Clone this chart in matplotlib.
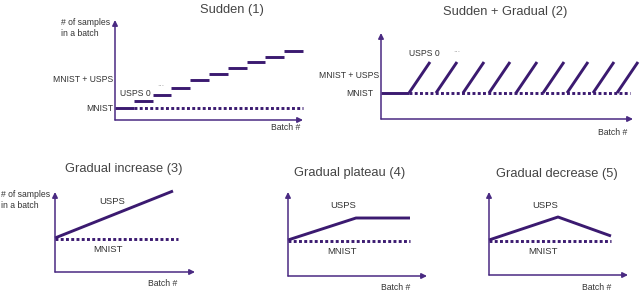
import matplotlib
matplotlib.use('Agg')
import matplotlib.pyplot as plt

plt.rcParams['font.family'] = ['Liberation Sans', 'DejaVu Sans']

W, H = 640, 290
LINE = '#3b1a70'
AXC = '#4a2a82'
TXT = '#333333'
TITLE = '#444444'

# Sudden (1): USPS step levels above MNIST, one per batch block
sudden_x = [1, 2, 3, 4, 5, 6, 7, 8, 9]
sudden_levels = [19, 25, 32, 40, 46, 52, 58, 63, 69]
sudden_mnist = 12

# Sudden + Gradual (2): ramps starting at these batch positions
ramp_starts = [28, 55, 82, 108, 135, 162, 186, 212, 236]
ramp_w, ramp_h = 21, 31
sg_mnist = 26

# Gradual panels (3)-(5): USPS curves
inc_x, inc_y = [0, 118], [34, 81]
plat_x, plat_y = [0, 68, 122], [36, 58, 58]
dec_x, dec_y = [0, 69, 122], [35, 58, 39]
grad_mnist = [33, 35, 34]
grad_end = [123, 122, 122]

fig = plt.figure(figsize=(W / 100, H / 100), dpi=100)


def px(x, y):
    return x / W, 1 - y / H


def make_ax(x0, y_bottom, x1, y_top, xmax, ymax):
    ax = fig.add_axes([x0 / W, 1 - y_bottom / H, (x1 - x0) / W, (y_bottom - y_top) / H])
    ax.set_xlim(0, xmax)
    ax.set_ylim(0, ymax)
    ax.axis('off')
    arrow = dict(arrowstyle='-|>', color=AXC, lw=1.1, shrinkA=0, shrinkB=0, mutation_scale=8)
    ax.annotate('', xy=(1, 0), xytext=(0, 0), xycoords='axes fraction', arrowprops=arrow)
    ax.annotate('', xy=(0, 1), xytext=(0, 0), xycoords='axes fraction', arrowprops=arrow)
    return ax


def txt(x, y, s, size=6.2, ha='center', color=TXT):
    fig.text(*px(x, y), s, fontsize=size, ha=ha, va='center', color=color)


solid = dict(color=LINE, lw=2.1, solid_capstyle='butt', clip_on=False)
dotted = dict(color=LINE, lw=2.1, ls=(0, (1, 0.8)), dash_capstyle='butt', clip_on=False)

# ---- panel 1
ax1 = make_ax(115, 120, 303, 20, 10, 100)
ax1.plot([0, 1], [sudden_mnist] * 2, **solid)
ax1.plot([1, 10], [sudden_mnist] * 2, **dotted)
for x, lv in zip(sudden_x, sudden_levels):
    ax1.plot([x, x + 1], [lv, lv], **solid)
txt(232, 10, 'Sudden (1)', size=9.3, color=TITLE)
fig.text(*px(61, 28), '# of samples\nin a batch', fontsize=6.2, ha='left', va='center',
         color=TXT, linespacing=1.35)
txt(113, 80, 'MNIST + USPS', ha='right')
txt(113, 108, 'MNIST', ha='right')
txt(120, 93, 'USPS 0', ha='left')
txt(161, 85, '...', size=6, color='#999999')
txt(286, 128, 'Batch #')

# ---- panel 2
ax2 = make_ax(381, 119, 633, 33, 252, 86)
ax2.plot([0, ramp_starts[0]], [sg_mnist] * 2, **solid)
ax2.plot([ramp_starts[0], 249], [sg_mnist] * 2, **dotted)
for s in ramp_starts:
    ax2.plot([s, s + ramp_w], [sg_mnist, sg_mnist + ramp_h], **solid)
txt(505, 12, 'Sudden + Gradual (2)', size=9.3, color=TITLE)
txt(379, 75, 'MNIST + USPS', ha='right')
txt(373, 93, 'MNIST', ha='right')
txt(409, 53, 'USPS 0', ha='left')
txt(457, 51, '...', size=6, color='#999999')
txt(613, 133, 'Batch #')

# ---- panels 3-5
boxes = [(55, 272, 195, 192), (288, 276, 427, 192), (489, 275, 628, 192)]
titles = ['Gradual increase (3)', 'Gradual plateau (4)', 'Gradual decrease (5)']
curves = [(inc_x, inc_y), (plat_x, plat_y), (dec_x, dec_y)]
title_pos = [(124, 169), (350, 173), (557, 174)]
usps_pos = [(112, 202), (343, 205), (545, 205)]
mnist_pos = [(108, 249), (342, 251), (543, 251)]
batch_pos = [(163, 284), (396, 287), (597, 287)]

for i, (x0, yb, x1, yt) in enumerate(boxes):
    ax = make_ax(x0, yb, x1, yt, x1 - x0, yb - yt)
    ax.plot([0, grad_end[i]], [grad_mnist[i]] * 2, **dotted)
    cx, cy = curves[i]
    ax.plot(cx, cy, **solid)
    txt(*title_pos[i], titles[i], size=9.3, color=TITLE)
    txt(*usps_pos[i], 'USPS', size=6.8)
    txt(*mnist_pos[i], 'MNIST', size=6.8)
    txt(*batch_pos[i], 'Batch #')

fig.text(*px(1, 200), '# of samples\nin a batch', fontsize=6.2, ha='left', va='center',
         color=TXT, linespacing=1.35)

fig.savefig('out.png', dpi=100, facecolor='white')
